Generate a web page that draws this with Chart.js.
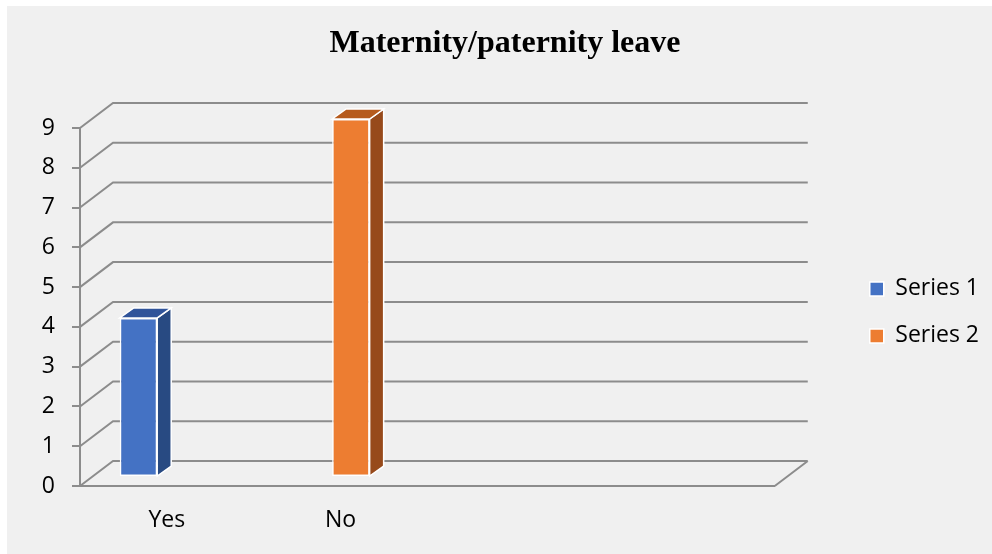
<!DOCTYPE html>
<html>
<head>
<meta charset="utf-8">
<title>Maternity/paternity leave</title>
<script src="https://cdn.jsdelivr.net/npm/chart.js@4.4.1/dist/chart.umd.min.js"></script>
<style>
  body { margin: 0; background: #fff; }
  #wrap { position: absolute; left: 7px; top: 6px; width: 985px; height: 548px; background: #f0f0f0; }
</style>
</head>
<body>
<div id="wrap"><canvas id="leaveChart"></canvas></div>
<script>
// data
const categories = ['Yes', 'No', '', ''];
const seriesNames = ['Series 1', 'Series 2'];
const series1 = [4, null, null, null];
const series2 = [null, 9, null, null];
const yMin = 0;
const yMax = 9;
const yStep = 1;

// colours: front, top and side of each column
const frontColors = ['#4472c4', '#ed7d31'];
const topColors = ['#30549a', '#b65b1d'];
const sideColors = ['#284a82', '#974a1b'];
const gridColor = '#8c8c8c';

// 3D look
const depth = {dx: 33, dy: -25};  // back wall seen behind the front axes
const shift = {dx: -9, dy: -9};   // columns stand a little inside the box
const slab = {dx: 14, dy: -10};   // column thickness

Chart.defaults.font.family = "'Open Sans', sans-serif";
Chart.defaults.font.size = 23;
Chart.defaults.color = '#000';

function face(ctx, pts, color) {
  ctx.beginPath();
  ctx.moveTo(pts[0][0], pts[0][1]);
  for (let k = 1; k < pts.length; k++) ctx.lineTo(pts[k][0], pts[k][1]);
  ctx.closePath();
  ctx.fillStyle = color;
  ctx.fill();
  ctx.strokeStyle = '#fff';
  ctx.lineWidth = 1.5;
  ctx.stroke();
}

const walls = {
  id: 'walls',
  beforeDatasetsDraw(chart) {
    const {ctx, chartArea: a, scales: {y}} = chart;
    ctx.save();
    ctx.strokeStyle = gridColor;
    ctx.lineWidth = 2;
    ctx.beginPath();
    y.ticks.forEach(t => {
      const py = y.getPixelForValue(t.value);
      ctx.moveTo(a.left, py);
      ctx.lineTo(a.left + depth.dx, py + depth.dy);
      ctx.lineTo(a.right + depth.dx, py + depth.dy);
    });
    // right edge of the floor
    ctx.moveTo(a.right, a.bottom);
    ctx.lineTo(a.right + depth.dx, a.bottom + depth.dy);
    ctx.stroke();
    ctx.restore();

    // the columns get drawn in the shifted plane
    ctx.save();
    ctx.translate(shift.dx, shift.dy);
  },
  afterDatasetsDraw(chart) {
    const ctx = chart.ctx;
    chart.data.datasets.forEach((ds, i) => {
      chart.getDatasetMeta(i).data.forEach((bar, j) => {
        if (ds.data[j] == null) return;
        const {x, y, base, width} = bar.getProps(['x', 'y', 'base', 'width']);
        const l = x - width / 2, r = x + width / 2;
        face(ctx, [[r, y], [r + slab.dx, y + slab.dy], [r + slab.dx, base + slab.dy], [r, base]], sideColors[i]);
        face(ctx, [[l, y], [l + slab.dx, y + slab.dy], [r + slab.dx, y + slab.dy], [r, y]], topColors[i]);
      });
    });
    ctx.restore();
  }
};

const barStyle = {
  borderColor: '#fff',
  borderWidth: 1.5,
  borderSkipped: false,
  barPercentage: 0.968,
  categoryPercentage: 0.446,
  clip: false,
  yAxisID: 'y'
};

new Chart(document.getElementById('leaveChart'), {
  type: 'bar',
  data: {
    labels: categories,
    datasets: [
      {label: seriesNames[0], data: series1, backgroundColor: frontColors[0], ...barStyle},
      {label: seriesNames[1], data: series2, backgroundColor: frontColors[1], ...barStyle}
    ]
  },
  options: {
    responsive: true,
    maintainAspectRatio: false,
    animation: false,
    layout: {padding: {left: 14, right: 3, top: 0, bottom: 0}},
    scales: {
      x: {
        grid: {display: false, drawTicks: false},
        border: {display: true, color: gridColor, width: 2},
        ticks: {padding: 21, maxRotation: 0},
        afterFit(scale) { scale.height = 68; }
      },
      y: {
        min: yMin,
        max: yMax,
        ticks: {stepSize: yStep, padding: 17},
        grid: {drawOnChartArea: false, drawTicks: true, tickLength: 8, color: gridColor, lineWidth: 2},
        border: {display: true, color: gridColor, width: 2},
        afterFit(scale) { scale.width = 59; }
      },
      // room between the floor and the legend
      depth: {
        type: 'linear',
        position: 'right',
        grid: {display: false},
        border: {display: false},
        ticks: {display: false},
        afterFit(scale) { scale.width = 71; }
      }
    },
    plugins: {
      title: {
        display: true,
        text: 'Maternity/paternity leave',
        font: {family: "'Liberation Serif', 'Times New Roman', serif", size: 32, weight: 'bold'},
        color: '#000',
        padding: {top: 19, bottom: 64.6}
      },
      legend: {
        position: 'right',
        fullSize: false,
        // empty title only nudges the entries down a little
        title: {display: true, text: '', font: {size: 9}, padding: 0},
        labels: {boxWidth: 14, boxHeight: 14, padding: 24}
      },
      tooltip: {enabled: false}
    }
  },
  plugins: [walls]
});
</script>
</body>
</html>
